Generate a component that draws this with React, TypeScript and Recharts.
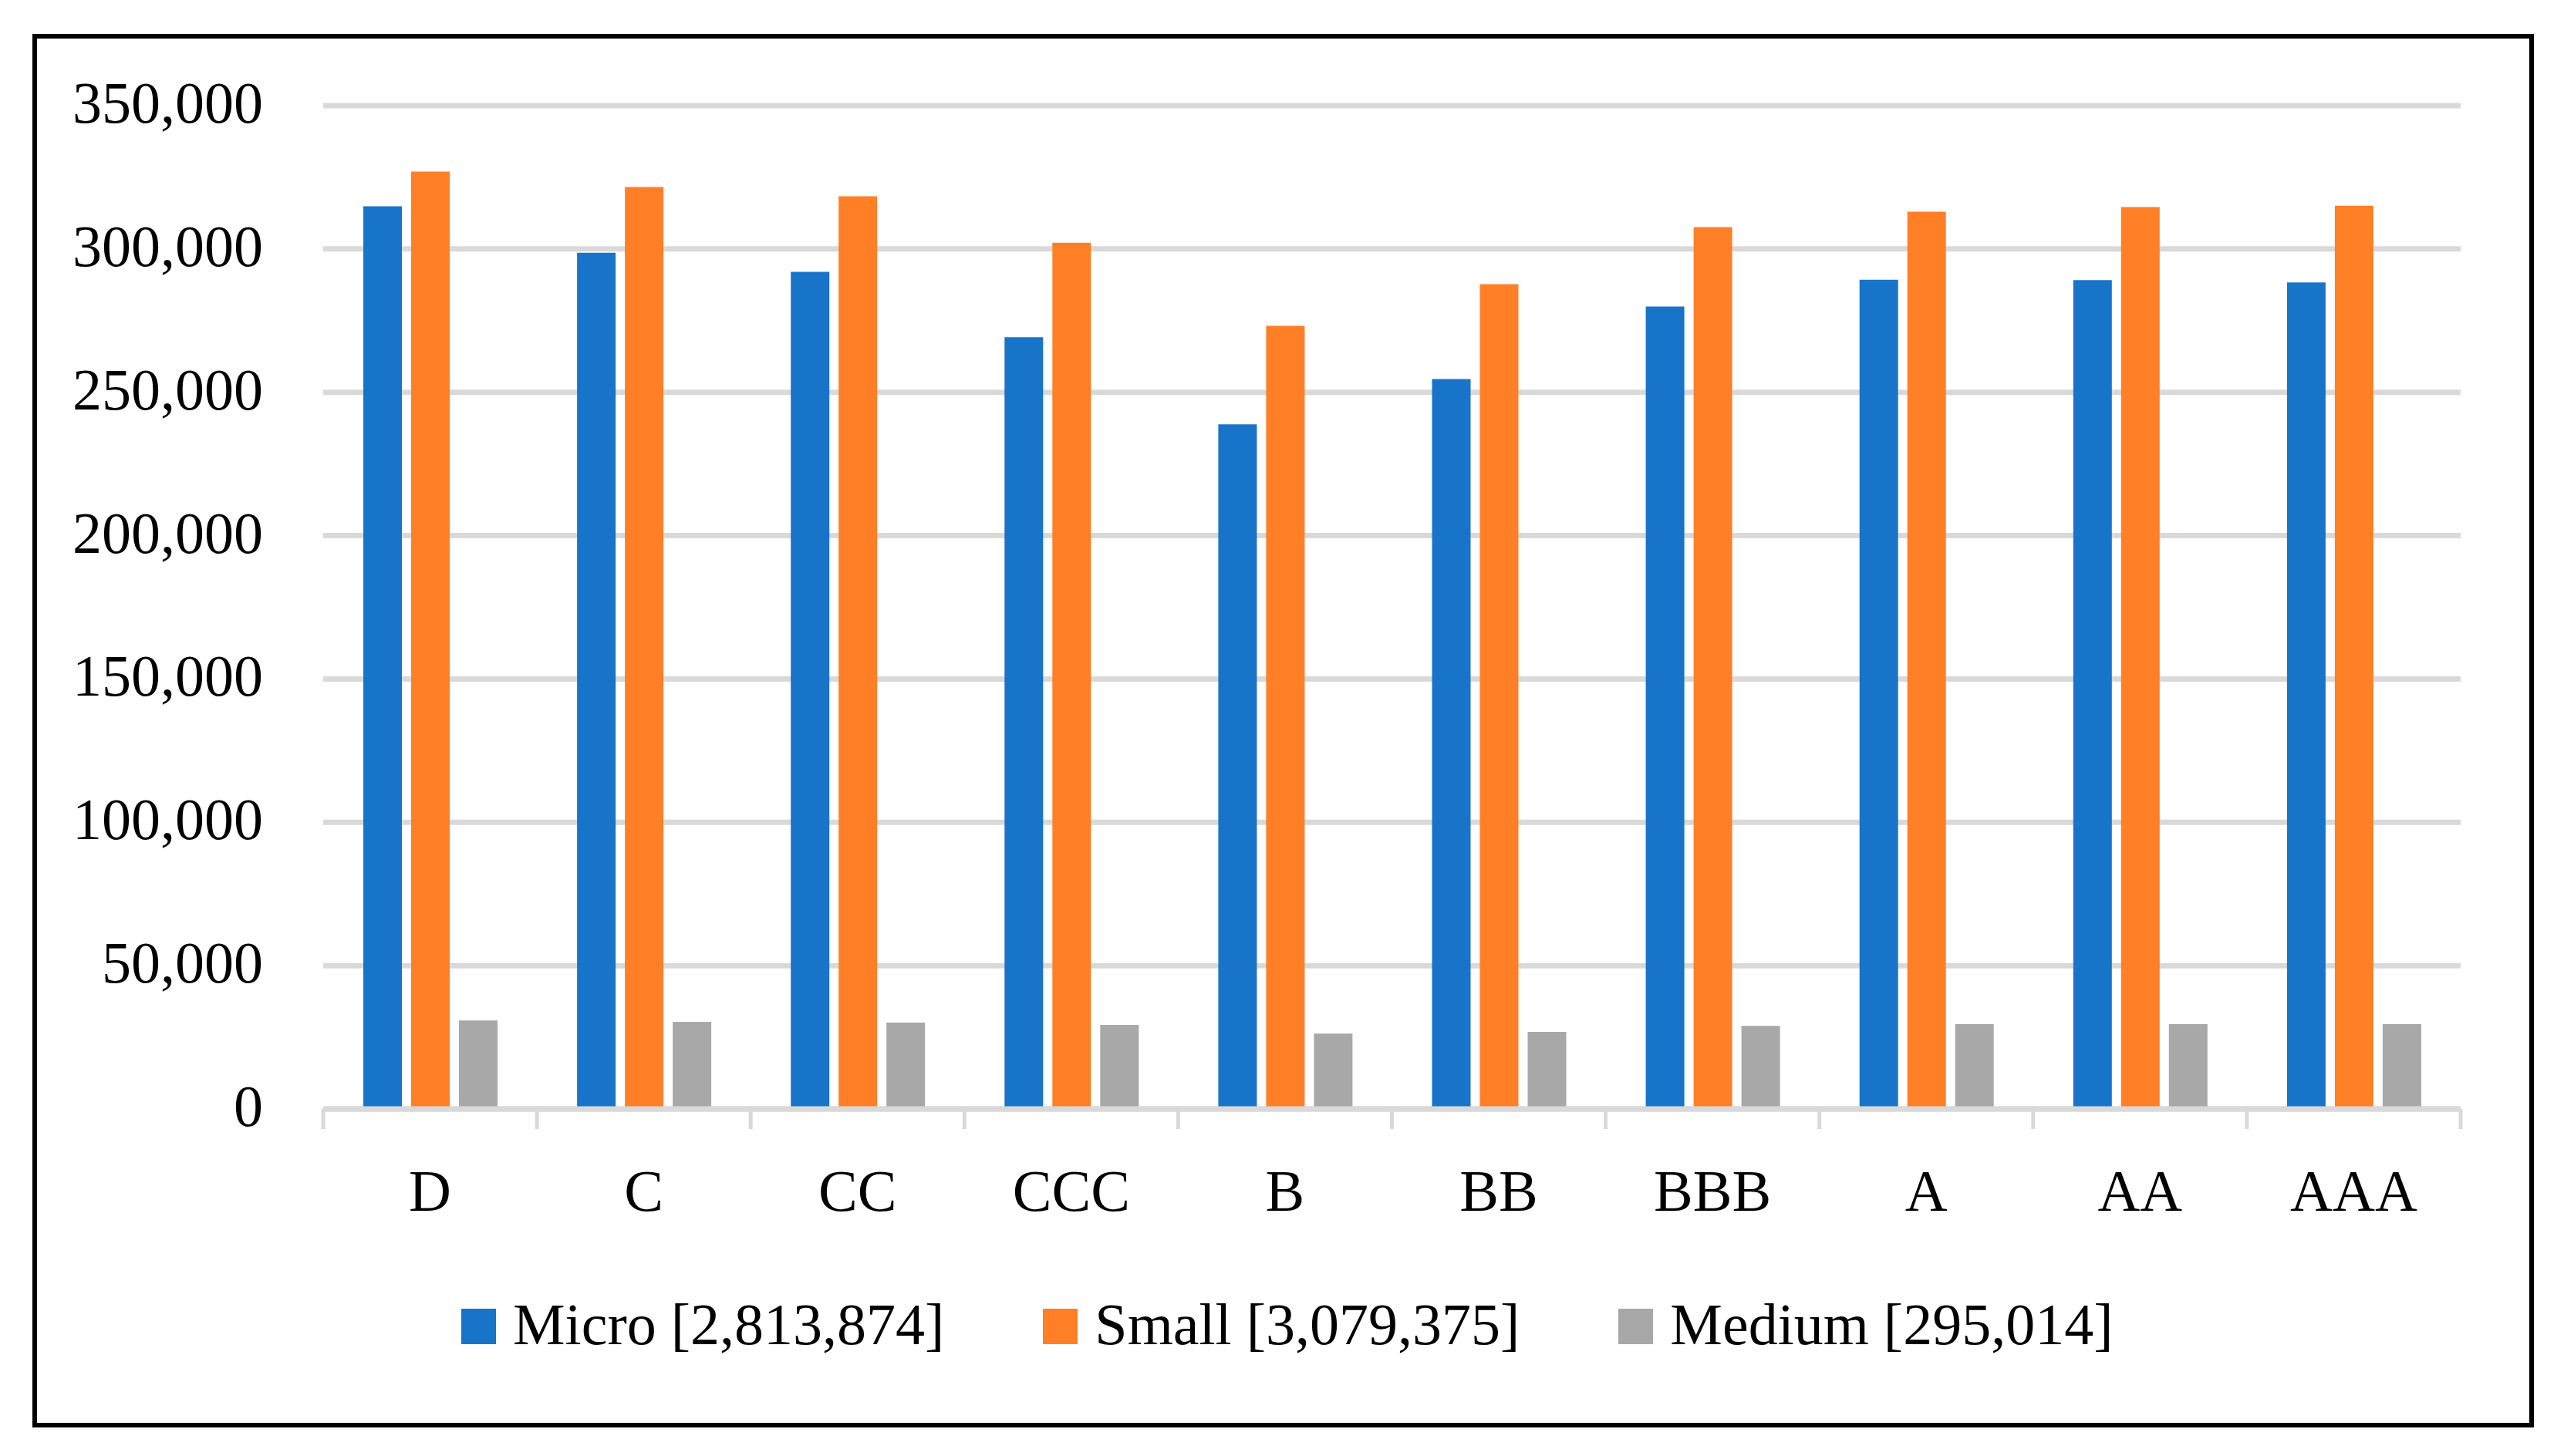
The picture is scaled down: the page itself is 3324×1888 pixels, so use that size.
import React from 'react';
import { BarChart, Bar, XAxis, YAxis, CartesianGrid, Legend } from 'recharts';

const categories = ['D', 'C', 'CC', 'CCC', 'B', 'BB', 'BBB', 'A', 'AA', 'AAA'];
const microValues = [314900, 298700, 292000, 269200, 238800, 254600, 279900, 289300, 289100, 288300];
const smallValues = [327000, 321600, 318400, 302200, 273200, 287700, 307600, 313000, 314600, 315100];
const mediumValues = [30900, 30400, 30100, 29300, 26300, 26900, 29000, 29600, 29600, 29600];
const yTicks = [0, 50000, 100000, 150000, 200000, 250000, 300000, 350000];
const seriesNames = ['Micro [2,813,874]', 'Small [3,079,375]', 'Medium [295,014]'];
const seriesColors = ['#1874C9', '#FF7F27', '#A8A8A8'];

const data = categories.map((c, i) => ({
  category: c,
  micro: microValues[i],
  small: smallValues[i],
  medium: mediumValues[i],
}));

const FONT = '"Liberation Serif", "Times New Roman", serif';
const FONT_SIZE = 76;
const CHART_W = 3324;
const CHART_H = 1888;
const PLOT_LEFT = 419;
const PLOT_RIGHT = 3190;
const PLOT_TOP = 137;
const PLOT_BOTTOM = 1438;
const X_AXIS_H = 200;
const GRID_COLOR = '#D9D9D9';

const fmt = (v: number) => v.toLocaleString('en-US');

const YTick = (props: any) => {
  const { x, y, payload } = props;
  return (
    <text x={x} y={y + 22} textAnchor="end" fontFamily={FONT} fontSize={FONT_SIZE} fill="#000">
      {fmt(payload.value)}
    </text>
  );
};

const XTick = (props: any) => {
  const { x, y, payload, index, visibleTicksCount, width } = props;
  const count = visibleTicksCount || categories.length;
  const w = typeof width === 'number' && width > 0 ? width : PLOT_RIGHT - PLOT_LEFT;
  const band = w / count;
  const left = x - band / 2;
  const right = x + band / 2;
  return (
    <g>
      <line x1={left} x2={left} y1={y} y2={y + 26} stroke={GRID_COLOR} strokeWidth={5} />
      {index === count - 1 && (
        <line x1={right} x2={right} y1={y} y2={y + 26} stroke={GRID_COLOR} strokeWidth={5} />
      )}
      <text x={x} y={y + 132} textAnchor="middle" fontFamily={FONT} fontSize={FONT_SIZE} fill="#000">
        {payload.value}
      </text>
    </g>
  );
};

const LegendContent = (props: any) => {
  const raw = props.payload && props.payload.length ? props.payload : seriesNames.map((n, i) => ({ value: n, color: seriesColors[i] }));
  const payload = [...raw].sort((a: any, b: any) => seriesNames.indexOf(a.value) - seriesNames.indexOf(b.value));
  return (
    <div
      style={{
        display: 'flex',
        alignItems: 'flex-start',
        fontFamily: FONT,
        fontSize: FONT_SIZE,
        lineHeight: `${FONT_SIZE}px`,
        whiteSpace: 'nowrap',
        color: '#000',
      }}
    >
      {payload.map((p: any, i: number) => (
        <div key={p.value} style={{ display: 'flex', alignItems: 'flex-start', marginRight: i < payload.length - 1 ? 128 : 0 }}>
          <div style={{ width: 45, height: 46, background: p.color, marginTop: 18, marginRight: 22 }} />
          <span>{p.value}</span>
        </div>
      ))}
    </div>
  );
};

export default function App() {
  return (
    <div style={{ position: 'absolute', left: 0, top: 0, width: CHART_W, height: CHART_H, background: '#fff' }}>
      <div
        style={{
          position: 'absolute',
          left: 42,
          top: 44,
          width: 3243,
          height: 1807,
          border: '6px solid #000',
          boxSizing: 'border-box',
        }}
      />
      <div style={{ position: 'absolute', left: 0, top: 0 }}>
        <BarChart
          width={CHART_W}
          height={CHART_H}
          data={data}
          margin={{ top: PLOT_TOP, right: CHART_W - PLOT_RIGHT, bottom: CHART_H - PLOT_BOTTOM - X_AXIS_H, left: 0 }}
          barSize={50}
          barGap={12}
        >
          <CartesianGrid horizontal vertical={false} stroke={GRID_COLOR} strokeWidth={7} />
          <XAxis
            dataKey="category"
            interval={0}
            height={X_AXIS_H}
            tickSize={0}
            tickMargin={0}
            tickLine={false}
            axisLine={{ stroke: GRID_COLOR, strokeWidth: 7 }}
            tick={<XTick />}
          />
          <YAxis
            width={PLOT_LEFT}
            domain={[0, 350000]}
            ticks={yTicks}
            interval={0}
            axisLine={false}
            tickLine={false}
            tickSize={0}
            tickMargin={78}
            tick={<YTick />}
          />
          <Legend
            verticalAlign="middle"
            align="center"
            layout="horizontal"
            wrapperStyle={{ top: 1679, left: 598, width: 'auto' }}
            content={<LegendContent />}
          />
          <Bar dataKey="micro" name={seriesNames[0]} fill={seriesColors[0]} isAnimationActive={false} />
          <Bar dataKey="small" name={seriesNames[1]} fill={seriesColors[1]} isAnimationActive={false} />
          <Bar dataKey="medium" name={seriesNames[2]} fill={seriesColors[2]} isAnimationActive={false} />
        </BarChart>
      </div>
    </div>
  );
}
